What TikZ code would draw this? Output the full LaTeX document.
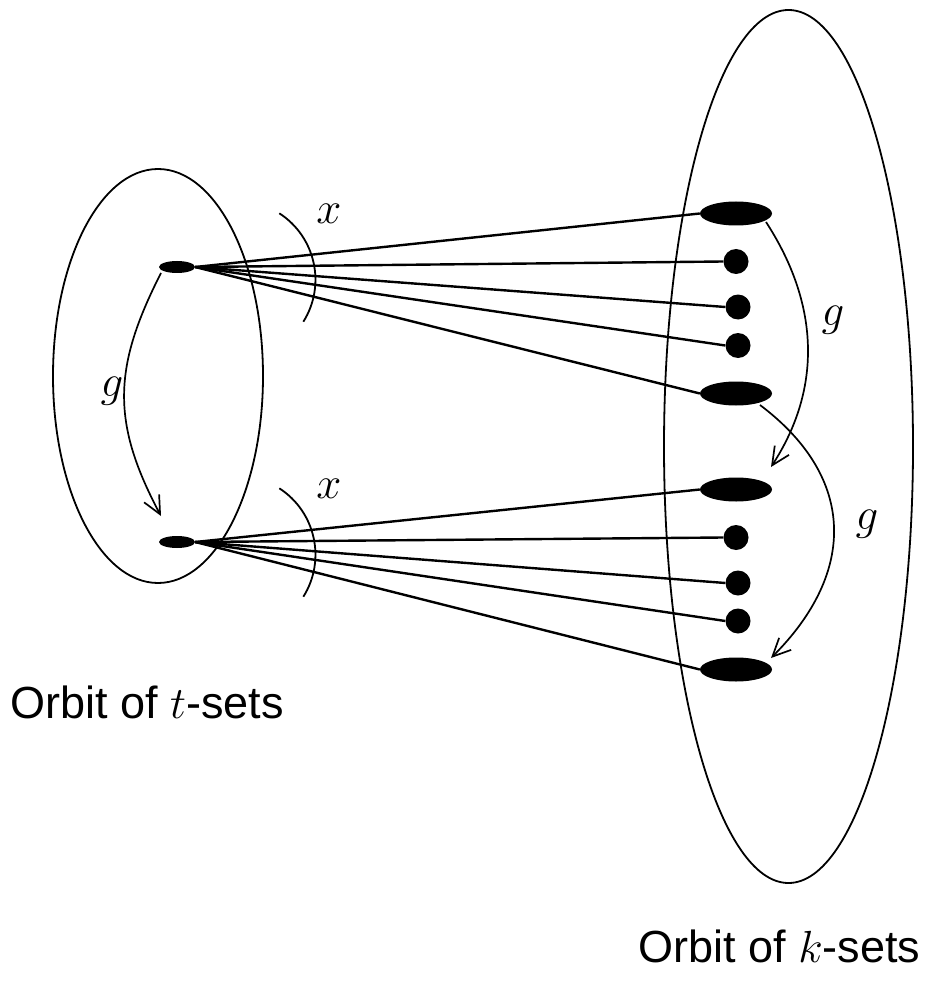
\RequirePackage{fix-cm}
\documentclass[tikz,border=0pt]{standalone}
\usepackage{fontspec}
\setmainfont{Liberation Sans}
\usetikzlibrary{shapes.geometric,arrows.meta}
\begin{document}
\begin{tikzpicture}[x=1pt,y=1pt,
  outline/.style={line width=1.8pt},
  fan/.style={line width=2.4pt},
  srcnode/.style={ellipse, fill=black, inner sep=0pt, minimum width=36pt, minimum height=12pt},
  bignode/.style={ellipse, fill=black, inner sep=0pt, minimum width=72pt, minimum height=24pt},
  dotnode/.style={circle, fill=black, inner sep=0pt, minimum size=25pt},
  garrow/.style={line width=1.7pt, -{Straight Barb[length=18pt,width=17pt,line width=1.7pt]}},
  lab/.style={font=\fontsize{45}{54}\selectfont, inner sep=0pt}
]
\useasboundingbox (0,0) rectangle (943,-981);
% orbits
\draw[outline] (158,-376) ellipse [x radius=105, y radius=207];
\draw[outline] (788.5,-446.5) ellipse [x radius=124.5, y radius=436.5];
% t-sets
\node[srcnode] (s1) at (177,-267) {};
\node[srcnode] (s2) at (177,-542) {};
% k-sets, top group
\node[bignode] (t1) at (736,-213.5) {};
\node[dotnode] (d1) at (736,-261.5) {};
\node[dotnode] (d2) at (738,-307) {};
\node[dotnode] (d3) at (738,-345.5) {};
\node[bignode] (t2) at (736,-393.5) {};
% k-sets, bottom group
\node[bignode] (t3) at (736,-489.5) {};
\node[dotnode] (d4) at (736,-537.5) {};
\node[dotnode] (d5) at (738,-583) {};
\node[dotnode] (d6) at (738,-621) {};
\node[bignode] (t4) at (736,-669.5) {};
% fans
\foreach \n in {t1,d1,d2,d3,t2} \draw[fan] (s1.east) -- (\n.west);
\foreach \n in {t3,d4,d5,d6,t4} \draw[fan] (s2.east) -- (\n.west);
% x arcs
\draw[outline] (279.3,-213.3) arc[start angle=57.1, end angle=-32.1, radius=79.1];
\draw[outline] (279.3,-488.3) arc[start angle=57.1, end angle=-32.1, radius=79.1];
\node[lab] (x1) at (329,-214) {$x$};
\node[lab] (x2) at (329,-489) {$x$};
% g arrows
\coordinate (ga1) at (161,-273);
\coordinate (gb1) at (161,-516);
\draw[garrow] (ga1) to[out=-117, in=118, looseness=1.12] (gb1);
\coordinate (ga2) at (766,-222);
\coordinate (gb2) at (771,-467);
\draw[garrow] (ga2) to[out=-57, in=57] (gb2);
\coordinate (ga3) at (760,-405);
\coordinate (gb3) at (771,-658);
\draw[garrow] (ga3) to[out=-37, in=45, looseness=1.22] (gb3);
\node[lab] (g1) at (112,-391) {$g$};
\node[lab] (g2) at (833,-320) {$g$};
\node[lab] (g3) at (867,-524) {$g$};
% captions
\node[lab, anchor=base west] (c1) at (10,-718) {Orbit of $t$-sets};
\node[lab, anchor=base west] (c2) at (638,-962) {Orbit of $k$-sets};
\end{tikzpicture}
\end{document}
